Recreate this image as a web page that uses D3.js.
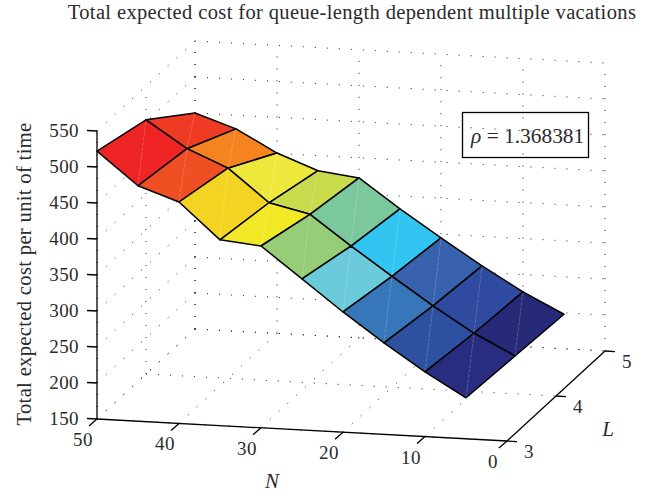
<!DOCTYPE html>
<html>
<head>
<meta charset="utf-8">
<script src="https://cdn.jsdelivr.net/npm/d3@7"></script>
<style>
  html, body { margin: 0; padding: 0; background: #fff; }
  svg { display: block; }
  text { font-family: "Liberation Serif", serif; fill: #2b2b2b; }
</style>
</head>
<body>
<div id="chart"></div>
<script>
/* ── data ──────────────────────────────────────────────────── */
const nValues = [50, 45, 40, 35, 30, 25, 20, 15, 10, 5];
const lValues = [3, 4, 5];

const costL3 = [522, 477, 457.5, 408, 402.5, 360, 317, 277, 240, 207];
const costL4 = [503, 466, 442, 397, 384, 343, 304, 266, 231, 202.5];
const costL5 = [450, 431, 400.5, 379, 372, 332, 295, 259, 226, 198];
const costByL = [costL3, costL4, costL5];

const nTicks = [50, 40, 30, 20, 10, 0];
const lTicks = [3, 4, 5];
const zTicks = [150, 200, 250, 300, 350, 400, 450, 500, 550];

// colormap: mean cell cost -> colour
const rampStops  = [214, 220, 245.5, 253.5, 281, 291, 318.5, 331, 358, 372, 383, 398, 404.6, 426, 435, 460.6, 462.5, 492];
const rampColors = ['#262a78', '#292d80', '#2f4a9e', '#2e50a0', '#3862ad', '#3776b9', '#32c5f2', '#6ccbdb',
                    '#7cc89c', '#94cd78', '#c9db4c', '#f2e826', '#efe83c', '#f3d522', '#f5821f', '#f04e23', '#ef3b24', '#ef2424'];

const titleText = 'Total expected cost for queue-length dependent multiple vacations';
const zLabel = 'Total expected cost per unit of time';

/* ── layout ────────────────────────────────────────────────── */
const W = 646, H = 496;
const svg = d3.select('#chart').append('svg').attr('width', W).attr('height', H);

// the 3D box is an oblique projection, one pair of scales per axis
const nX = d3.scaleLinear().domain([50, 0]).range([97, 507]);
const nY = d3.scaleLinear().domain([50, 0]).range([419, 441]);
const lX = d3.scaleLinear().domain([3, 5]).range([0, 98]);
const lY = d3.scaleLinear().domain([3, 5]).range([0, -90]);
const zY = d3.scaleLinear().domain([150, 550]).range([0, -288]);
const color = d3.scaleLinear().domain(rampStops).range(rampColors).clamp(true);

const project = (n, l, z) => [nX(n) + lX(l), nY(n) + lY(l) + zY(z)];
const line = d3.line();

/* ── dotted grid on the back walls and the floor ───────────── */
const gridG = svg.append('g')
  .attr('fill', 'none').attr('stroke', '#222').attr('stroke-width', 1)
  .attr('stroke-dasharray', '1 11');

function gridLine(a, b) {
  gridG.append('path').attr('d', line([project(...a), project(...b)]));
}

zTicks.forEach(z => {
  gridLine([50, 5, z], [0, 5, z]);   // back wall
  gridLine([50, 3, z], [50, 5, z]);  // left wall
});
nTicks.forEach(n => {
  gridLine([n, 5, 150], [n, 5, 550]);
  gridLine([n, 3, 150], [n, 5, 150]);
});
lTicks.forEach(l => {
  gridLine([50, l, 150], [50, l, 550]);
  gridLine([50, l, 150], [0, l, 150]);
});

/* ── surface ───────────────────────────────────────────────── */
const surfG = svg.append('g');

// back row first so the front row paints over it
for (let li = lValues.length - 2; li >= 0; li--) {
  for (let ni = 0; ni < nValues.length - 1; ni++) {
    const corners = [
      [ni, li], [ni + 1, li], [ni + 1, li + 1], [ni, li + 1],
    ];
    const pts = corners.map(([i, j]) => project(nValues[i], lValues[j], costByL[j][i]));
    const meanCost = d3.mean(corners, ([i, j]) => costByL[j][i]);

    surfG.append('path')
      .attr('d', line(pts) + 'Z')
      .attr('fill', color(meanCost))
      .attr('stroke', '#000').attr('stroke-width', 1.5)
      .attr('stroke-linejoin', 'round');

    // faint seam where the patch splits into two triangles
    surfG.append('path')
      .attr('d', line([pts[1], pts[3]]))
      .attr('stroke', '#fff').attr('stroke-opacity', 0.3).attr('stroke-width', 0.7)
      .attr('stroke-dasharray', '4 1');
  }
}

/* ── axes ──────────────────────────────────────────────────── */
const axisG = svg.append('g').attr('fill', 'none').attr('stroke', '#000').attr('stroke-width', 1.3);
const labelG = svg.append('g').attr('font-size', 19).attr('letter-spacing', 0.4);

// z axis
axisG.append('path').attr('d', line([project(50, 3, 150), project(50, 3, 550)]));
zTicks.forEach(z => {
  const [px, py] = project(50, 3, z);
  axisG.append('path').attr('d', line([[px, py], [px - 10, py - 0.5]]));
  labelG.append('text').attr('x', px - 18).attr('y', py + 6)
    .attr('text-anchor', 'end').text(z);
});

// N axis
axisG.append('path').attr('d', line([project(50, 3, 150), project(0, 3, 150)]));
nTicks.forEach(n => {
  const [px, py] = project(n, 3, 150);
  axisG.append('path').attr('d', line([[px, py], [px - 8, py + 7]]));
  labelG.append('text').attr('x', px - 14).attr('y', py + 27)
    .attr('text-anchor', 'middle').text(n);
});

// L axis
axisG.append('path').attr('d', line([project(0, 3, 150), project(0, 5, 150)]));
lTicks.forEach(l => {
  const [px, py] = project(0, l, 150);
  axisG.append('path').attr('d', line([[px, py], [px + 10, py + 0.6]]));
  labelG.append('text').attr('x', px + 22).attr('y', py + 17)
    .attr('text-anchor', 'middle').text(l);
});

/* ── labels ────────────────────────────────────────────────── */
svg.append('text').attr('x', 352).attr('y', 18.5).attr('text-anchor', 'middle')
  .attr('font-size', 20.5).attr('letter-spacing', 0.37).text(titleText);

svg.append('text').attr('transform', 'translate(31,274) rotate(-90)')
  .attr('text-anchor', 'middle').attr('font-size', 20.5).attr('letter-spacing', 0.36).text(zLabel);

svg.append('text').attr('x', 272).attr('y', 488).attr('text-anchor', 'middle')
  .attr('font-size', 21).attr('font-style', 'italic').text('N');
svg.append('text').attr('x', 608).attr('y', 436).attr('text-anchor', 'middle')
  .attr('font-size', 21).attr('font-style', 'italic').text('L');

// annotation box, no fill: the grid dots show through it
svg.append('rect').attr('x', 462.5).attr('y', 112.5).attr('width', 126).attr('height', 45)
  .attr('fill', 'none').attr('stroke', '#000').attr('stroke-width', 1.3);
const rho = svg.append('text').attr('x', 471).attr('y', 143).attr('font-size', 21.4);
rho.append('tspan').attr('font-style', 'italic').text('ρ');
rho.append('tspan').text(' = 1.368381');
</script>
</body>
</html>
